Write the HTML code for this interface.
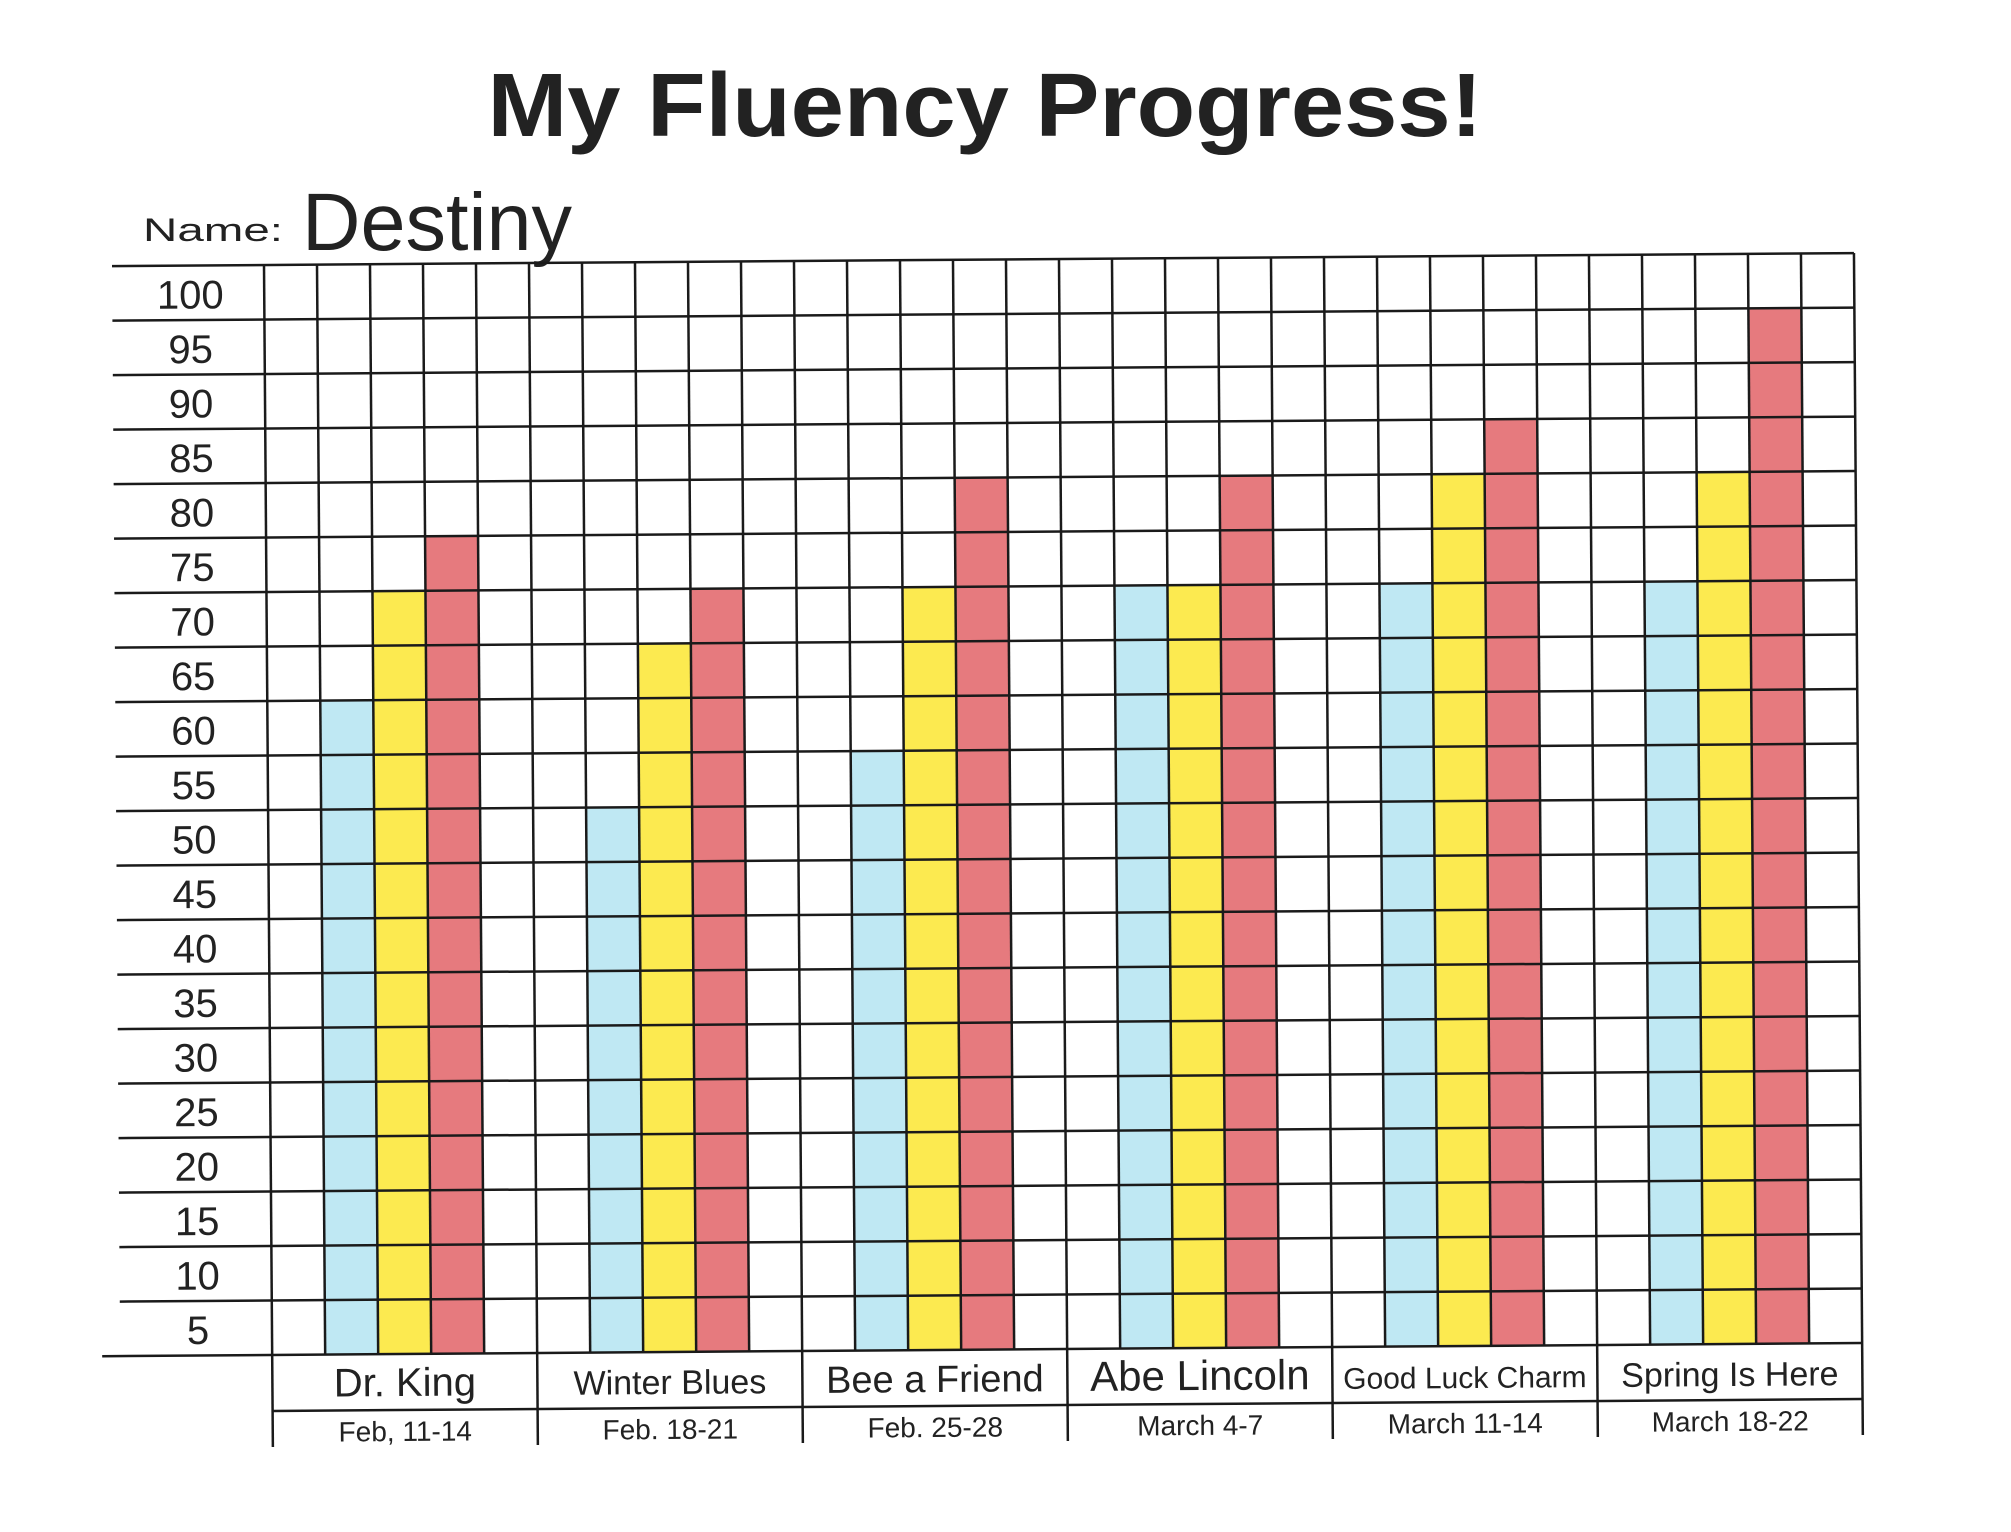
<!DOCTYPE html>
<html><head><meta charset="utf-8"><style>
html,body{margin:0;padding:0;background:#fff;}
svg{display:block;}
text{font-family:"Liberation Sans",sans-serif;fill:#222;}
</style></head><body>
<svg width="2011" height="1532" viewBox="0 0 2011 1532" xmlns="http://www.w3.org/2000/svg">
<rect width="2011" height="1532" fill="#fff"/>
<text x="985" y="136" text-anchor="middle" font-size="90" font-weight="bold" textLength="995" lengthAdjust="spacingAndGlyphs" fill="#2a2a2a">My Fluency Progress!</text>
<text x="143" y="241" font-size="32" textLength="140" lengthAdjust="spacingAndGlyphs">Name:</text>
<text x="302" y="250" font-size="82" textLength="270" lengthAdjust="spacingAndGlyphs" fill="#333">Destiny</text>
<g transform="translate(264,265) rotate(-0.43)">
<g id="bars"></g>
<script>
</script>
</g>
</svg>
<script>
(function(){
var svg=document.querySelector('g[transform]');
var ns='http://www.w3.org/2000/svg';
var W=53,H=54.5,G=1090;
function el(t,a,txt){var e=document.createElementNS(ns,t);for(var k in a)e.setAttribute(k,a[k]);if(txt)e.textContent=txt;svg.appendChild(e);return e;}
var vals=[[8,6,5],[10,7,6],[9,6,4],[6,6,4],[6,4,3],[6,4,1]];
var cols=['#bfe8f3','#fcea50','#e67a7e'];
for(var g=0;g<6;g++)for(var b=0;b<3;b++){var c=5*g+1+b;el('rect',{x:c*W,y:vals[g][b]*H,width:W,height:G-vals[g][b]*H,fill:cols[b]});}
for(var k=0;k<=20;k++){el('line',{x1:(k==20?-170:-152),y1:k*H,x2:30*W,y2:k*H,stroke:'#1a1a1a','stroke-width':2.5});}
for(var i=0;i<=30;i++){el('line',{x1:i*W,y1:0,x2:i*W,y2:G,stroke:'#1a1a1a','stroke-width':2.5});}
for(var k=0;k<20;k++){el('text',{x:-74,y:k*H+43,'text-anchor':'middle','font-size':40},String(100-5*k));}
for(var g=0;g<=6;g++){el('line',{x1:g*5*W,y1:G,x2:g*5*W,y2:G+92,stroke:'#1a1a1a','stroke-width':2.5});}
el('line',{x1:0,y1:G+56,x2:30*W,y2:G+56,stroke:'#1a1a1a','stroke-width':2.5});
var names=[['Dr. King',40],['Winter Blues',34],['Bee a Friend',38],['Abe Lincoln',42],['Good Luck Charm',30],['Spring Is Here',34]];
var dates=['Feb, 11-14','Feb. 18-21','Feb. 25-28','March 4-7','March 11-14','March 18-22'];
for(var g=0;g<6;g++){var cx=(5*g+2.5)*W;
el('text',{x:cx,y:G+42,'text-anchor':'middle','font-size':names[g][1]},names[g][0]);
el('text',{x:cx,y:G+87,'text-anchor':'middle','font-size':28},dates[g]);}
})();
</script>
</body></html>
